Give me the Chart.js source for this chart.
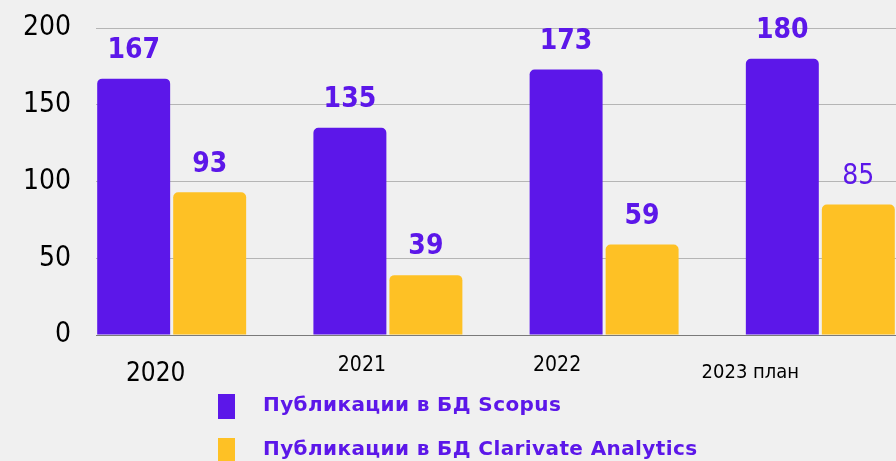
<!DOCTYPE html>
<html>
<head>
<meta charset="utf-8">
<script src="https://cdn.jsdelivr.net/npm/chart.js@4.4.1/dist/chart.umd.min.js"></script>
<style>
  html, body { margin: 0; padding: 0; background: #f0f0f0; }
  #wrap { position: relative; width: 896px; height: 461px; }
</style>
</head>
<body>
<div id="wrap"><canvas id="pubChart"></canvas></div>
<script>
// =========================
// данные
// =========================
const categories = ["2020", "2021", "2022", "2023 план"];
const scopusValues = [167, 135, 173, 180];
const clarivateValues = [93, 39, 59, 85];
const seriesNames = ["Публикации в БД Scopus", "Публикации в БД Clarivate Analytics"];
const yTicks = [0, 50, 100, 150, 200];

// =========================
// стиль
// =========================
const PURPLE = "#5c17e9";
const YELLOW = "#fec125";
const FONT = '"DejaVu Sans Condensed", "DejaVu Sans", sans-serif';

// подписи категорий в оригинале стоят неровно
const catDx = [-16, -26, -47, -70];
const catY = [374, 366, 366, 373];
const catSize = [26, 21, 21, 20];

// =========================
// подписи значений, категорий и легенда
// =========================
const textPlugin = {
  id: "textPlugin",
  afterDatasetsDraw(chart) {
    const { ctx } = chart;
    const xScale = chart.scales.x;

    ctx.save();
    ctx.textAlign = "center";
    ctx.textBaseline = "middle";
    ctx.fillStyle = PURPLE;

    chart.data.datasets.forEach((ds, di) => {
      const meta = chart.getDatasetMeta(di);
      meta.data.forEach((bar, i) => {
        const bold = !(di === 1 && i === 3);
        ctx.font = `${bold ? "bold " : ""}28px ${FONT}`;
        ctx.fillText(String(ds.data[i].y), bar.x, bar.y - 28);
      });
    });

    ctx.fillStyle = "#000000";
    categories.forEach((label, i) => {
      ctx.font = `${catSize[i]}px ${FONT}`;
      ctx.fillText(label, xScale.getPixelForValue(i) + catDx[i], catY[i]);
    });

    // легенда
    ctx.textAlign = "left";
    chart.data.datasets.forEach((ds, di) => {
      const top = 394 + di * 44;
      ctx.fillStyle = ds.backgroundColor;
      ctx.fillRect(218, top, 17, 25);
      ctx.fillStyle = PURPLE;
      ctx.font = `bold 20px "DejaVu Sans", sans-serif`;
      ctx.letterSpacing = "0.4px";
      ctx.fillText(ds.label, 263, top + 12);
    });

    ctx.restore();
  },
};

new Chart(document.getElementById("pubChart"), {
  type: "bar",
  data: {
    datasets: [
      {
        label: seriesNames[0],
        data: scopusValues.map((v, i) => ({ x: i, y: v })),
        backgroundColor: PURPLE,
        borderRadius: { topLeft: 5, topRight: 5 },
        borderSkipped: "start",
      },
      {
        label: seriesNames[1],
        data: clarivateValues.map((v, i) => ({ x: i, y: v })),
        backgroundColor: YELLOW,
        borderRadius: { topLeft: 5, topRight: 5 },
        borderSkipped: "start",
      },
    ],
  },
  options: {
    responsive: true,
    maintainAspectRatio: false,
    animation: false,
    categoryPercentage: 0.703,
    barPercentage: 0.96,
    layout: { padding: { top: 28, right: 0, bottom: 126, left: 0 } },
    plugins: {
      legend: { display: false },
      tooltip: { enabled: false },
    },
    scales: {
      x: {
        type: "linear",
        min: -0.35,
        max: 3.35,
        offset: false,
        display: false,
        afterBuildTicks: (scale) => {
          scale.ticks = categories.map((_, i) => ({ value: i }));
        },
      },
      y: {
        min: 0,
        max: 200,
        afterBuildTicks: (scale) => {
          scale.ticks = yTicks.map((v) => ({ value: v }));
        },
        afterFit: (scale) => {
          scale.width = 96;
          scale.paddingTop = 10;
          scale.paddingBottom = 10;
        },
        border: { display: false },
        grid: {
          drawTicks: false,
          color: (c) => (c.tick && c.tick.value === 0 ? "#7a7a7a" : "#b5b5b5"),
          lineWidth: 1,
        },
        ticks: {
          color: "#000000",
          padding: 25,
          font: { family: FONT, size: 28 },
        },
      },
    },
  },
  plugins: [textPlugin],
});
</script>
</body>
</html>
